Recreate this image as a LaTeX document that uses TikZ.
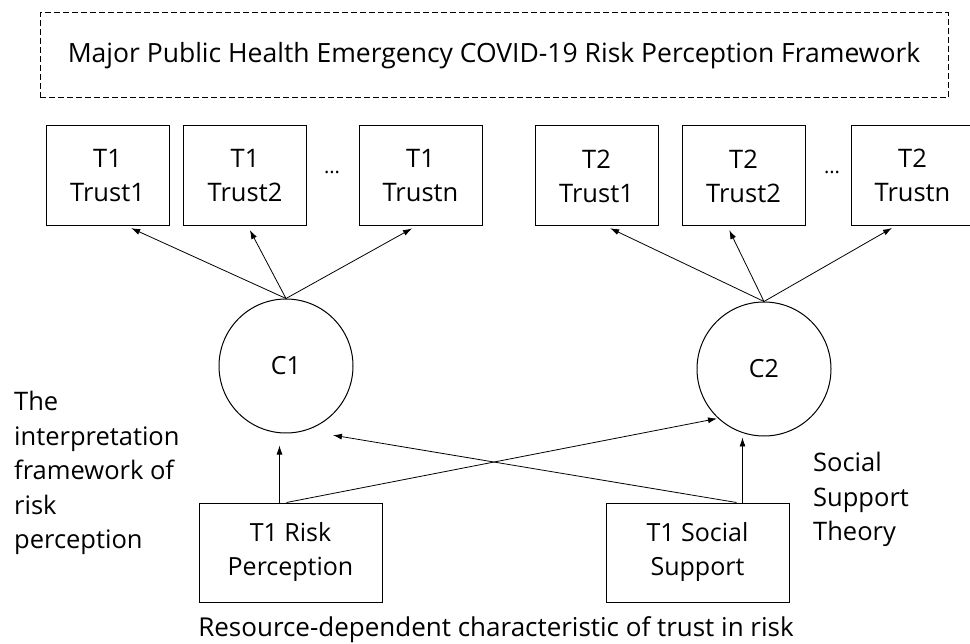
\documentclass[tikz,border=0pt]{standalone}
\usepackage{fontspec}
\setmainfont{Open Sans}
\usetikzlibrary{arrows.meta}

\begin{document}
\begin{tikzpicture}[x=1pt, y=-1pt,
  trust/.style={rectangle, draw=black, line width=1pt, minimum width=123pt,
    minimum height=100pt, align=center, font=\fontsize{25.5}{34}\selectfont},
  %
  latent/.style={circle, draw=black, line width=1pt, minimum size=134pt,
    font=\fontsize{25}{34}\selectfont},
  %
  predictor/.style={rectangle, draw=black, line width=1pt, minimum width=183pt,
    minimum height=99pt, align=center, font=\fontsize{25}{34}\selectfont},
  %
  theory/.style={align=left, inner sep=0pt, font=\fontsize{25.5}{34.5}\selectfont},
  %
  frame/.style={rectangle, draw=black, line width=1pt, dash pattern=on 6pt off 3pt,
    minimum width=908pt, minimum height=85pt, font=\fontsize{26.5}{34}\selectfont},
  %
  link/.style={-{Latex[length=9pt,width=6pt]}, line width=0.8pt, shorten >=4pt}
  ]

  \useasboundingbox (0,0) rectangle (970,644);

  \begin{scope}
    \node [frame] (title) at (494,55.5)
      {Major Public Health Emergency COVID-19 Risk Perception Framework};
    %%%%%%%%%%%%%%%%%%%%%%%%%%%%%%%
    \node [trust] (aTrust1) at (107.5,176) {T1\\Trust1};
    \node [trust] (aTrust2) at (245,176) {T1\\Trust2};
    \node [font=\fontsize{20}{20}\selectfont] (aDots) at (332,172) {...};
    \node [trust] (aTrustn) at (420.5,176) {T1\\Trustn};
    %%%%%%%%%%%%%%%%%%%%%%%%%%%%%%%
    \node [trust] (bTrust1) at (596.5,176) {T2\\Trust1};
    \node [trust] (bTrust2) at (743.5,176) {T2\\Trust2};
    \node [font=\fontsize{20}{20}\selectfont] (bDots) at (832,172) {...};
    \node [trust] (bTrustn) at (912.5,175.5) {T2\\Trustn};
    %%%%%%%%%%%%%%%%%%%%%%%%%%%%%%%
    \node [latent] (C1) at (286,366) {C1};
    \node [latent] (C2) at (764,369) {C2};
    %%%%%%%%%%%%%%%%%%%%%%%%%%%%%%%
    \node [predictor] (riskPerc) at (290.5,552.5) {T1 Risk\\Perception};
    \node [predictor] (socSupp) at (697.5,552.5) {T1 Social\\Support};
    %%%%%%%%%%%%%%%%%%%%%%%%%%%%%%%
    \node [theory, anchor=north west] (riskTheory) at (14,391)
      {The\\interpretation\\framework of\\risk\\perception};
    \node [theory, anchor=north west] (suppTheory) at (813,452)
      {Social\\Support\\Theory};
    \node [anchor=base, inner sep=0pt, font=\fontsize{26}{34}\selectfont]
      (resource) at (496,636) {Resource-dependent characteristic of trust in risk};
  \end{scope}

  \begin{scope}
    \draw [link] (C1.north) -- ([xshift=20pt]aTrust1.south);
    \draw [link] (C1.north) -- ([xshift=3pt]aTrust2.south);
    \draw [link] (C1.north) -- ([xshift=-5pt]aTrustn.south);
    \draw [link] (C2.north) -- ([xshift=10pt]bTrust1.south);
    \draw [link] (C2.north) -- ([xshift=-16pt]bTrust2.south);
    \draw [link] (C2.north) -- ([xshift=-17pt]bTrustn.south);
    %
    \draw [link, shorten >=12pt] ([xshift=-11pt]riskPerc.north)
      -- ([xshift=-11pt]riskPerc.north |- C1.south);
    \draw [link, shorten >=1pt] ([xshift=-4pt]riskPerc.north) -- (C2.227);
    \draw [link, shorten >=1pt] ([xshift=45pt]socSupp.north)
      -- ([xshift=45pt]socSupp.north |- C2.south);
    \draw [link, shorten >=1pt] ([xshift=39pt]socSupp.north)
      -- ([xshift=46pt,yshift=-69pt]C1.center);
  \end{scope}

\end{tikzpicture}
\end{document}
